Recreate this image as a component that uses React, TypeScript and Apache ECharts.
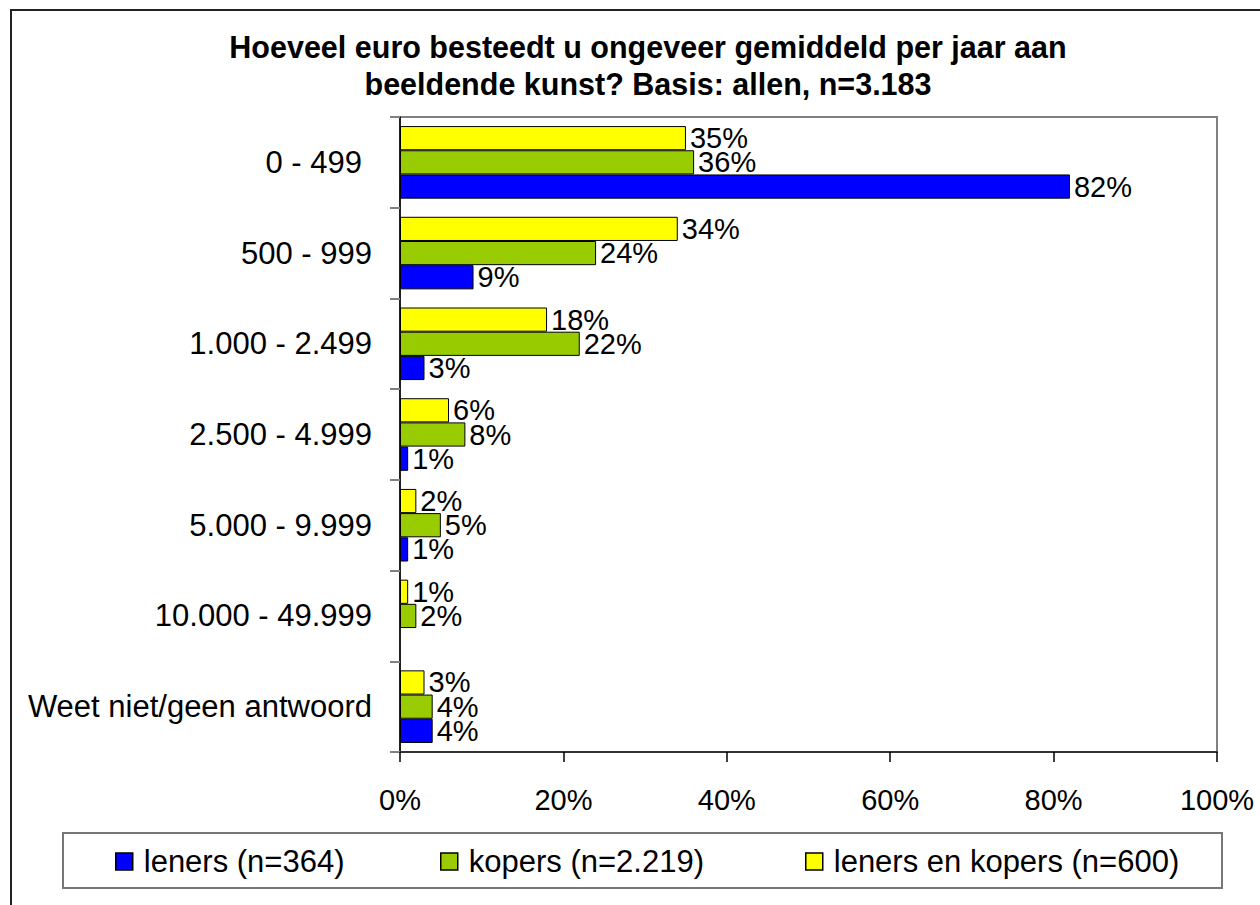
import React, { useEffect, useRef } from 'react';
import * as echarts from 'echarts';

const categories = [
  '0 - 499',
  '500 - 999',
  '1.000 - 2.499',
  '2.500 - 4.999',
  '5.000 - 9.999',
  '10.000 - 49.999',
  'Weet niet/geen antwoord',
];
const seriesNames = ['leners (n=364)', 'kopers (n=2.219)', 'leners en kopers (n=600)'];
const leners = [82, 9, 3, 1, 1, null, 4];
const kopers = [36, 24, 22, 8, 5, 2, 4];
const lenersEnKopers = [35, 34, 18, 6, 2, 1, 3];
const xMin = 0;
const xMax = 100;
const xInterval = 20;
const titleLines = [
  'Hoeveel euro besteedt u ongeveer gemiddeld per jaar aan',
  'beeldende kunst? Basis: allen, n=3.183',
];
const colors = ['#0000FF', '#99CC00', '#FFFF00'];

const FONT = '"Liberation Sans", Arial, sans-serif';

export default function App() {
  const ref = useRef<HTMLDivElement>(null);

  useEffect(() => {
    if (!ref.current) return;
    const chart = echarts.init(ref.current, undefined, { renderer: 'svg' });
    const values = [leners, kopers, lenersEnKopers];
    const legendLefts = [115, 440, 805];
    // draw order: last series first so that it appears on top of each group
    const drawOrder = [2, 1, 0];

    chart.setOption({
      animation: false,
      backgroundColor: '#ffffff',
      textStyle: { fontFamily: FONT },
      title: {
        text: titleLines.join('\n'),
        left: 648,
        top: 28,
        padding: 0,
        textAlign: 'center',
        textStyle: {
          fontFamily: FONT,
          fontSize: 30.5,
          fontWeight: 'bold',
          color: '#000',
          lineHeight: 37,
        },
      },
      graphic: [
        {
          type: 'rect',
          shape: { x: 11, y: 10, width: 1300, height: 1000 },
          style: { fill: 'none', stroke: '#222', lineWidth: 2 },
          silent: true,
          z: -10,
        },
        {
          type: 'rect',
          shape: { x: 63, y: 833, width: 1159, height: 55 },
          style: { fill: 'none', stroke: '#777', lineWidth: 2 },
          silent: true,
        },
      ],
      legend: seriesNames.map((name, i) => ({
        data: [name],
        left: legendLefts[i],
        top: 846,
        padding: 0,
        icon: 'rect',
        itemWidth: 17,
        itemHeight: 17,
        itemStyle: { borderColor: '#000', borderWidth: 1.5 },
        textStyle: {
          fontFamily: FONT,
          fontSize: 31,
          lineHeight: 30,
          color: '#000',
          padding: [0, 0, 0, 6],
        },
        selectedMode: false,
      })),
      grid: {
        left: 400,
        right: 43,
        top: 117,
        bottom: 153,
        show: true,
        borderColor: '#808080',
        borderWidth: 2,
        containLabel: false,
      },
      xAxis: {
        type: 'value',
        min: xMin,
        max: xMax,
        interval: xInterval,
        axisLine: { show: true, lineStyle: { color: '#333', width: 2 } },
        axisTick: { show: true, length: 10, lineStyle: { color: '#000', width: 1.5 } },
        axisLabel: {
          formatter: '{value}%',
          fontFamily: FONT,
          fontSize: 29,
          color: '#000',
          margin: 33,
        },
        splitLine: { show: false },
      },
      yAxis: {
        type: 'category',
        data: categories,
        inverse: true,
        axisLine: { show: true, lineStyle: { color: '#000', width: 1.5 } },
        axisTick: { show: true, length: 10, lineStyle: { color: '#808080', width: 2 } },
        axisLabel: {
          fontFamily: FONT,
          fontSize: 31,
          color: '#000',
          margin: 28,
          formatter: (v: string) => (v === categories[0] ? `{p|${v}}` : v),
          rich: {
            p: { padding: [0, 10, 0, 0], fontSize: 31, fontFamily: FONT, color: '#000' },
          },
        },
        splitLine: { show: false },
      },
      series: drawOrder.map((i) => ({
        name: seriesNames[i],
        type: 'bar',
        data: values[i],
        barGap: '0%',
        barCategoryGap: '20%',
        itemStyle: { color: colors[i], borderColor: '#000', borderWidth: 1 },
        label: {
          show: true,
          position: 'right',
          distance: 4,
          formatter: '{c}%',
          fontFamily: FONT,
          fontSize: 29,
          color: '#000',
        },
      })),
    });

    return () => chart.dispose();
  }, []);

  return (
    <div
      ref={ref}
      style={{ position: 'fixed', left: 0, top: 0, width: 1260, height: 905, background: '#fff' }}
    />
  );
}
